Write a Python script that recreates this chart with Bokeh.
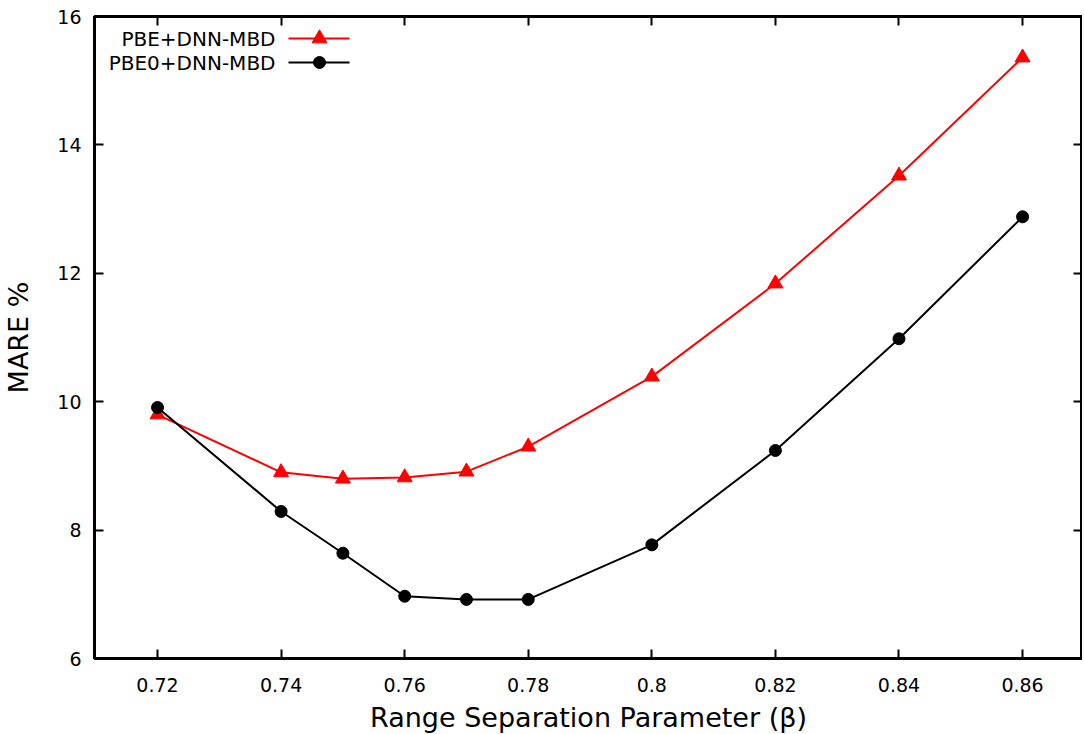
from bokeh.plotting import figure
from bokeh.models import Range1d, LinearAxis, FixedTicker, CustomJSTickFormatter
from bokeh.core.properties import value
from bokeh.embed import file_html
from bokeh.resources import INLINE

beta = [0.72, 0.74, 0.75, 0.76, 0.77, 0.78, 0.80, 0.82, 0.84, 0.86]
pbe_dnn = [9.80, 8.90, 8.80, 8.82, 8.91, 9.30, 10.39, 11.84, 13.52, 15.36]
pbe0_dnn = [9.91, 8.29, 7.64, 6.97, 6.92, 6.92, 7.77, 9.24, 10.98, 12.88]
x_ticks = [0.72, 0.74, 0.76, 0.78, 0.80, 0.82, 0.84, 0.86]
y_ticks = [6, 8, 10, 12, 14, 16]
series_names = ["PBE+DNN-MBD", "PBE0+DNN-MBD"]

FONT = "DejaVu Sans"
FW, FH = 988, 642

p = figure(width=1078, height=726, frame_width=FW, frame_height=FH,
           x_range=Range1d(0.7098, 0.8697), y_range=Range1d(6, 16),
           output_backend="svg", toolbar_location=None,
           min_border_left=91, min_border_top=16, min_border_right=0, min_border_bottom=68)
p.background_fill_color = "white"
p.border_fill_color = "white"
p.grid.visible = False
p.outline_line_color = "black"
p.outline_line_width = 3

fmt = CustomJSTickFormatter(code="return (Math.round(tick*100)/100).toString();")
blank = CustomJSTickFormatter(code="return '';")

for ax in p.xaxis:
    ax.ticker = FixedTicker(ticks=x_ticks)
    ax.formatter = fmt
    ax.axis_label = "Range Separation Parameter (β)"
    ax.major_label_standoff = 19
    ax.axis_label_standoff = 7
for ax in p.yaxis:
    ax.ticker = FixedTicker(ticks=y_ticks)
    ax.axis_label = "MARE %"
    ax.major_label_standoff = 13
    ax.axis_label_standoff = 20

top = LinearAxis(ticker=FixedTicker(ticks=x_ticks), formatter=blank)
right = LinearAxis(ticker=FixedTicker(ticks=y_ticks), formatter=blank)
for ax in (top, right):
    ax.major_label_standoff = 0
p.add_layout(top, "above")
p.add_layout(right, "right")

for ax in p.axis:
    ax.axis_line_width = 3
    ax.axis_line_color = "black"
    ax.major_tick_in = 9
    ax.major_tick_out = 0
    ax.major_tick_line_width = 2
    ax.major_tick_line_color = "black"
    ax.minor_tick_line_color = None
    ax.major_label_text_font = FONT
    ax.major_label_text_font_size = "19px"
    ax.major_label_text_color = "black"
    ax.axis_label_text_font = FONT
    ax.axis_label_text_font_style = "normal"
    ax.axis_label_text_font_size = "27px"
    ax.axis_label_text_color = "black"

# data
p.line(beta, pbe_dnn, line_color="#ff0000", line_width=2)
p.scatter(beta, pbe_dnn, marker="triangle", size=15, fill_color="#ff0000", line_color="#ff0000")
p.line(beta, pbe0_dnn, line_color="black", line_width=2)
p.scatter(beta, pbe0_dnn, marker="circle", size=12, fill_color="black", line_color="black")

# legend (gnuplot style: text then sample), in frame pixel coordinates
p.extra_x_ranges["scr"] = Range1d(0, FW)
p.extra_y_ranges["scr"] = Range1d(FH, 0)
leg_colors = ["#ff0000", "black"]
leg_markers = ["triangle", "circle"]
leg_sizes = [15, 12]
for i, name in enumerate(series_names):
    yy = 22 + 24 * i
    p.text(x=[181], y=[yy], text=[name], x_range_name="scr", y_range_name="scr",
           text_font=value(FONT), text_font_size="20px", text_align="right",
           text_baseline="middle", text_color="black")
    p.line([194, 255], [yy, yy], x_range_name="scr", y_range_name="scr",
           line_color=leg_colors[i], line_width=2)
    p.scatter([225], [yy], x_range_name="scr", y_range_name="scr",
              marker=leg_markers[i], size=leg_sizes[i],
              fill_color=leg_colors[i], line_color=leg_colors[i])

open("out.html", "w").write(file_html(p, INLINE))
